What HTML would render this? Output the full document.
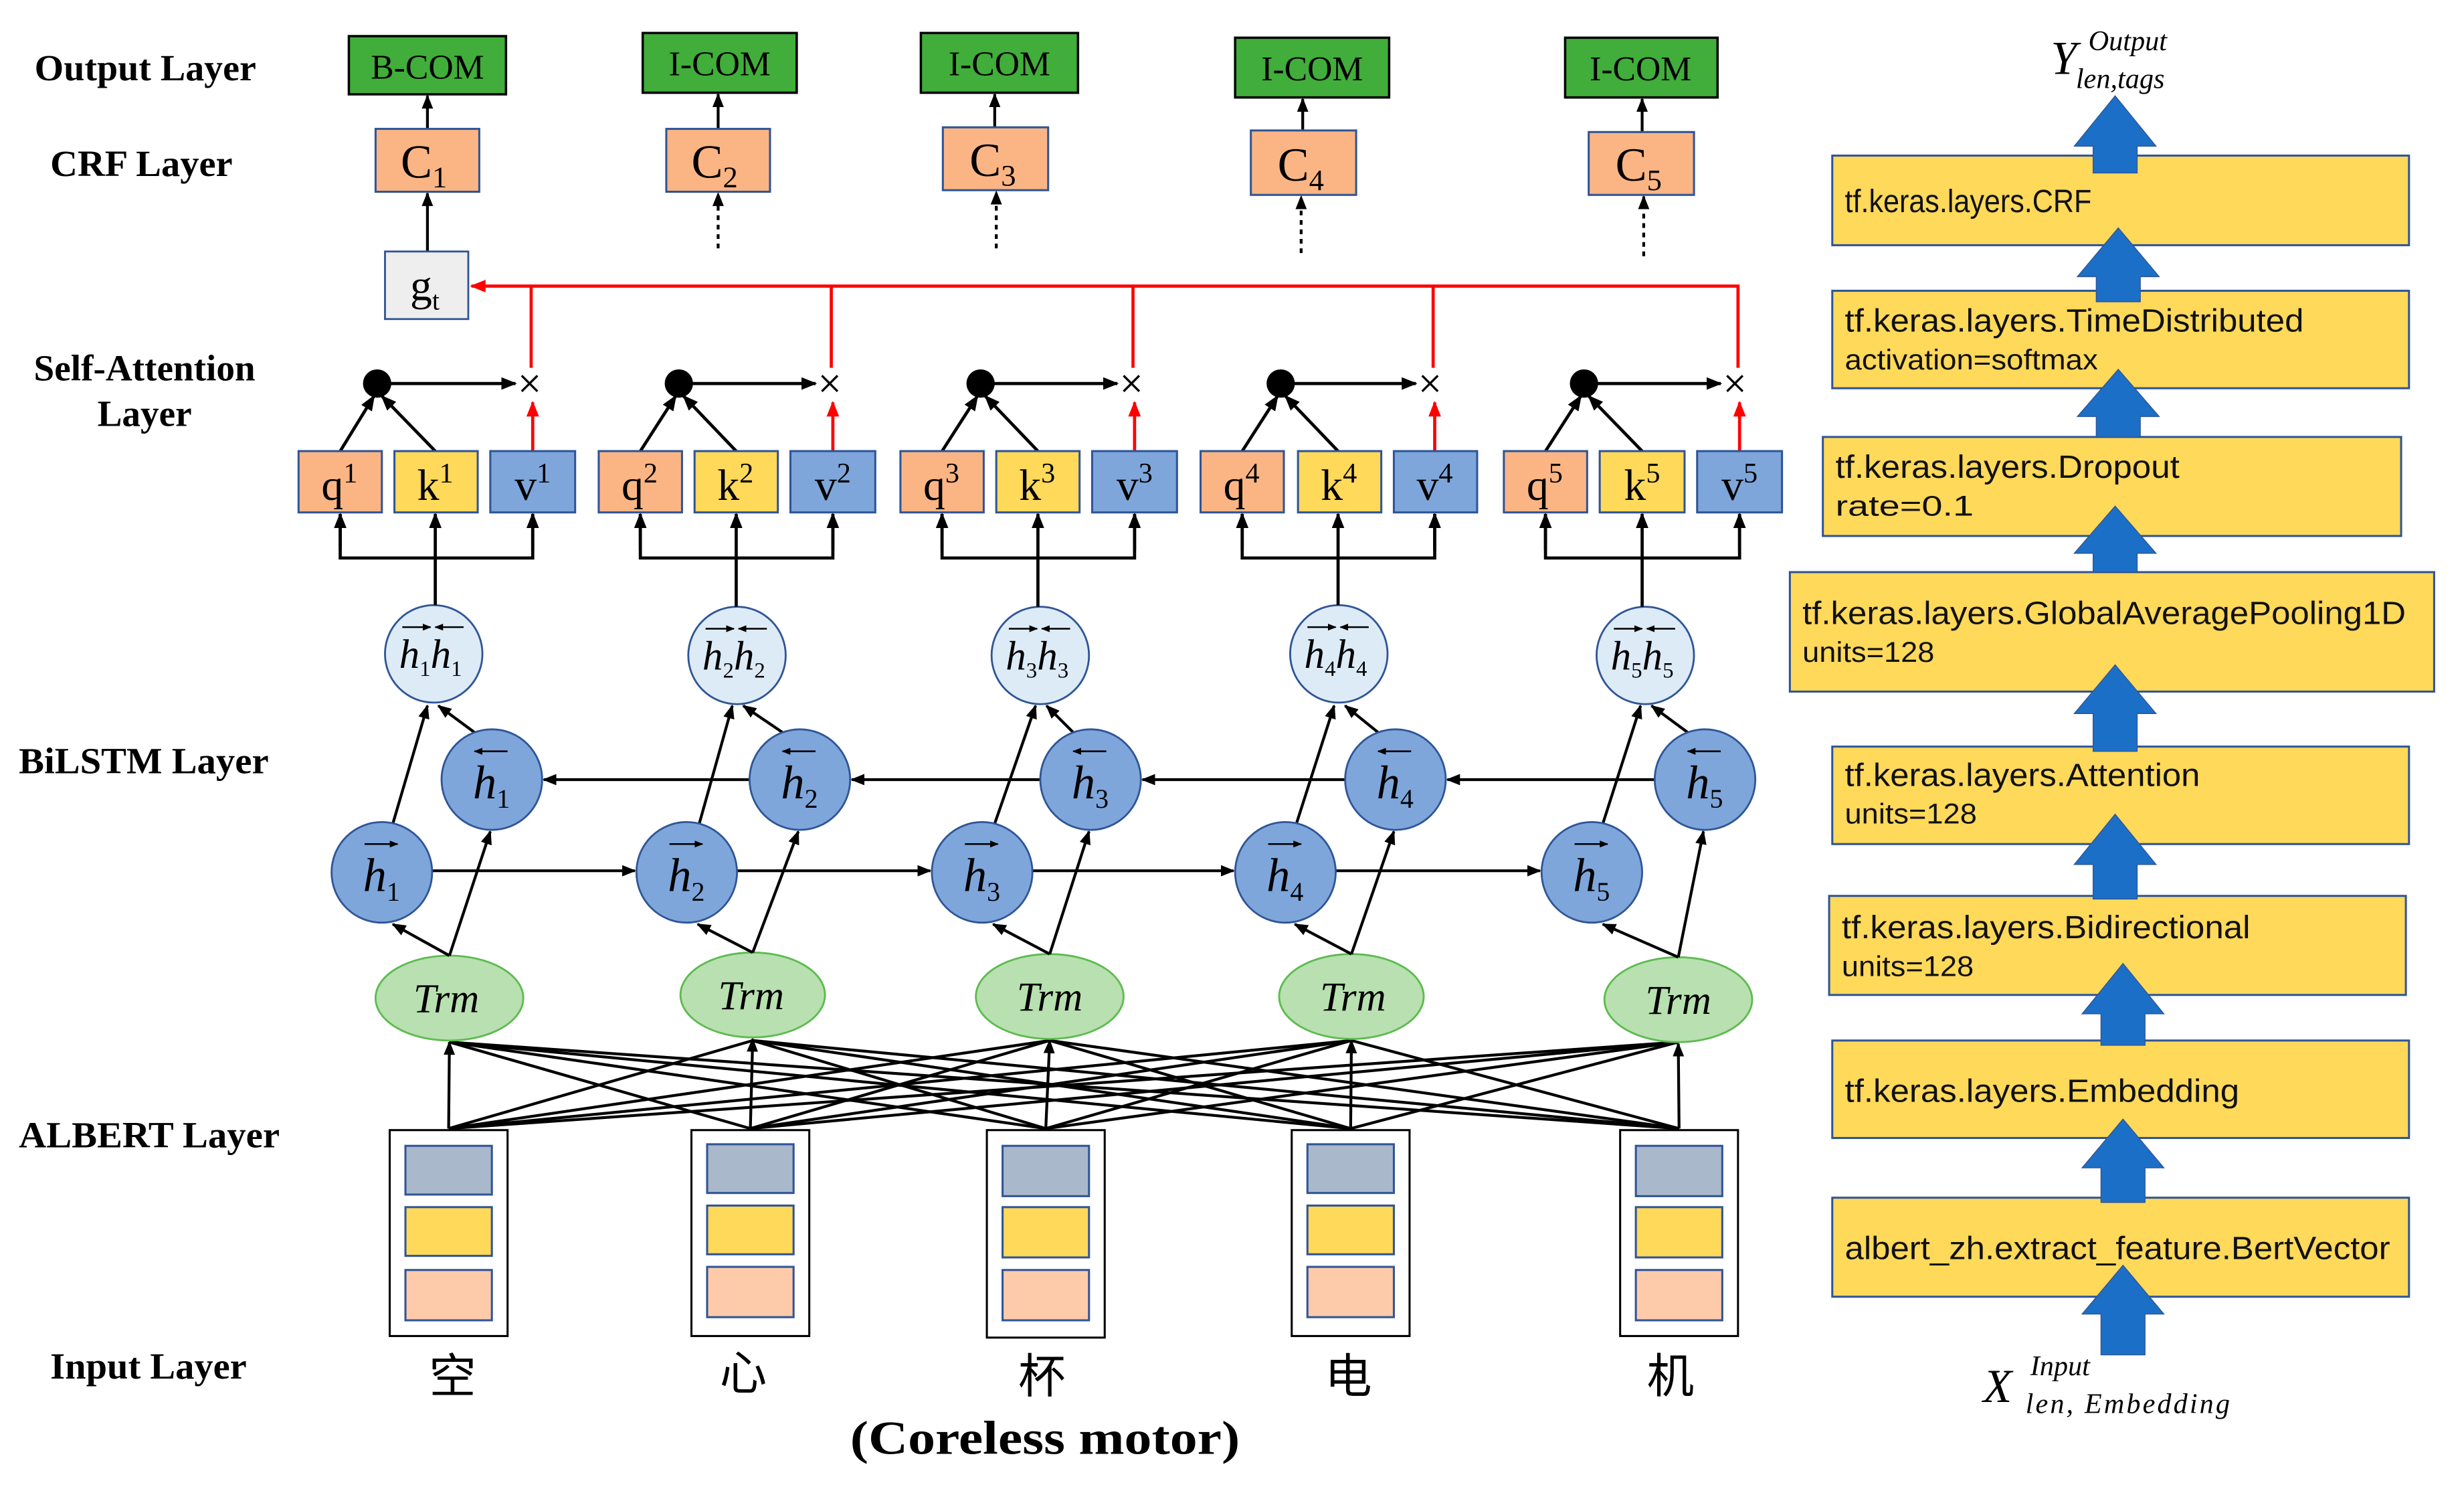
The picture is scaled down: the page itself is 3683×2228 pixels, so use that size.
<!DOCTYPE html>
<html><head><meta charset="utf-8"><style>
html,body{margin:0;padding:0;background:#fff;}
svg{display:block;}
.lab{font-family:"Liberation Serif",serif;font-weight:bold;font-size:23.5px;fill:#000;}
.ser{font-family:"Liberation Serif",serif;fill:#000;}
.ar{font-family:"Liberation Sans",sans-serif;font-size:20.5px;fill:#111;}
.it{font-family:"Liberation Serif",serif;font-style:italic;fill:#000;}
.cjk{font-family:"Liberation Serif","Noto Sans CJK SC",sans-serif;font-size:30px;fill:#000;}
</style></head><body>
<svg width="3683" height="2228" viewBox="0 0 1568 948.6" preserveAspectRatio="none" xmlns="http://www.w3.org/2000/svg">
<defs>
<marker id="a" viewBox="0 0 10 10" refX="9" refY="5" markerWidth="5" markerHeight="5" orient="auto"><path d="M0,1 L10,5 L0,9z" fill="#000"/></marker>
<marker id="r" viewBox="0 0 10 10" refX="9" refY="5" markerWidth="5" markerHeight="5" orient="auto"><path d="M0,1 L10,5 L0,9z" fill="#f00"/></marker>
</defs>

<text class="lab" x="22" y="51" textLength="141" lengthAdjust="spacingAndGlyphs">Output Layer</text>
<text class="lab" x="32" y="112" textLength="116" lengthAdjust="spacingAndGlyphs">CRF Layer</text>
<text class="lab" x="92" y="242" text-anchor="middle">Self-Attention</text>
<text class="lab" x="92" y="271" text-anchor="middle">Layer</text>
<text class="lab" x="12" y="492" textLength="159" lengthAdjust="spacingAndGlyphs">BiLSTM Layer</text>
<text class="lab" x="12" y="730" textLength="166" lengthAdjust="spacingAndGlyphs">ALBERT Layer</text>
<text class="lab" x="32" y="877" textLength="125" lengthAdjust="spacingAndGlyphs">Input Layer</text>

<g stroke="#000" stroke-width="1.8" fill="none">
<line x1="285.5" y1="718" x2="286" y2="663" marker-end="url(#a)"/><line x1="285.5" y1="718" x2="479" y2="662"/><line x1="285.5" y1="718" x2="668" y2="662"/><line x1="285.5" y1="718" x2="860" y2="662"/><line x1="285.5" y1="718" x2="1068" y2="663"/>
<line x1="477.5" y1="718" x2="286" y2="663"/><line x1="477.5" y1="718" x2="479" y2="661" marker-end="url(#a)"/><line x1="477.5" y1="718" x2="668" y2="662"/><line x1="477.5" y1="718" x2="860" y2="662"/><line x1="477.5" y1="718" x2="1068" y2="663"/>
<line x1="665.5" y1="718" x2="286" y2="663"/><line x1="665.5" y1="718" x2="479" y2="662"/><line x1="665.5" y1="718" x2="668" y2="662" marker-end="url(#a)"/><line x1="665.5" y1="718" x2="860" y2="662"/><line x1="665.5" y1="718" x2="1068" y2="663"/>
<line x1="859.5" y1="718" x2="286" y2="663"/><line x1="859.5" y1="718" x2="479" y2="662"/><line x1="859.5" y1="718" x2="668" y2="662"/><line x1="859.5" y1="718" x2="860" y2="662" marker-end="url(#a)"/><line x1="859.5" y1="718" x2="1068" y2="663"/>
<line x1="1068.5" y1="718" x2="286" y2="663"/><line x1="1068.5" y1="718" x2="479" y2="662"/><line x1="1068.5" y1="718" x2="668" y2="662"/><line x1="1068.5" y1="718" x2="860" y2="662"/><line x1="1068.5" y1="718" x2="1068" y2="664" marker-end="url(#a)"/>
</g>

<g stroke="#000" stroke-width="1.3" fill="#fff">
<rect x="248" y="719" width="75" height="131"/><rect x="440" y="719" width="75" height="131"/><rect x="628" y="719" width="75" height="132"/><rect x="822" y="719" width="75" height="131"/><rect x="1031" y="719" width="75" height="131"/>
</g>
<g stroke="#2F5597" stroke-width="1.3">
<rect x="258" y="729" width="55" height="31" fill="#A9B8CB"/><rect x="258" y="768" width="55" height="31" fill="#FFD95A"/><rect x="258" y="808" width="55" height="32" fill="#FDCBAA"/>
<rect x="450" y="728" width="55" height="31" fill="#A9B8CB"/><rect x="450" y="767" width="55" height="31" fill="#FFD95A"/><rect x="450" y="806" width="55" height="32" fill="#FDCBAA"/>
<rect x="638" y="729" width="55" height="32" fill="#A9B8CB"/><rect x="638" y="768" width="55" height="32" fill="#FFD95A"/><rect x="638" y="808" width="55" height="32" fill="#FDCBAA"/>
<rect x="832" y="728" width="55" height="31" fill="#A9B8CB"/><rect x="832" y="767" width="55" height="31" fill="#FFD95A"/><rect x="832" y="806" width="55" height="32" fill="#FDCBAA"/>
<rect x="1041" y="729" width="55" height="32" fill="#A9B8CB"/><rect x="1041" y="768" width="55" height="32" fill="#FFD95A"/><rect x="1041" y="808" width="55" height="32" fill="#FDCBAA"/>
</g>
<text class="cjk" x="288" y="886" text-anchor="middle">空</text>
<text class="cjk" x="473" y="884" text-anchor="middle">心</text>
<text class="cjk" x="663" y="886" text-anchor="middle">杯</text>
<text class="cjk" x="858" y="886" text-anchor="middle">电</text>
<text class="cjk" x="1063" y="886" text-anchor="middle">机</text>
<text class="ser" x="541" y="925" font-size="30" font-weight="bold" textLength="248" lengthAdjust="spacingAndGlyphs">(Coreless  motor)</text>

<g fill="#B8E0B0" stroke="#5DBB4F" stroke-width="1.2">
<ellipse cx="286" cy="635" rx="47" ry="27"/><ellipse cx="479" cy="633" rx="46" ry="27"/><ellipse cx="668" cy="634" rx="47" ry="27"/><ellipse cx="860" cy="634" rx="46" ry="27"/><ellipse cx="1068" cy="636" rx="47" ry="27"/>
</g>
<g class="it" font-size="26" text-anchor="middle">
<text x="284" y="644">Trm</text><text x="478" y="642">Trm</text><text x="668" y="643">Trm</text><text x="861" y="643">Trm</text><text x="1068" y="645">Trm</text>
</g>

<g stroke="#000" stroke-width="1.8" fill="none">
<line x1="286" y1="608" x2="250" y2="588" marker-end="url(#a)"/><line x1="286" y1="608" x2="312" y2="529" marker-end="url(#a)"/>
<line x1="479" y1="606" x2="444" y2="588" marker-end="url(#a)"/><line x1="479" y1="606" x2="508" y2="529" marker-end="url(#a)"/>
<line x1="668" y1="607" x2="632" y2="588" marker-end="url(#a)"/><line x1="668" y1="607" x2="693" y2="529" marker-end="url(#a)"/>
<line x1="860" y1="607" x2="824" y2="588" marker-end="url(#a)"/><line x1="860" y1="607" x2="887" y2="529" marker-end="url(#a)"/>
<line x1="1068" y1="609" x2="1020" y2="588" marker-end="url(#a)"/><line x1="1068" y1="609" x2="1084" y2="529" marker-end="url(#a)"/>
<line x1="250" y1="524" x2="272" y2="449" marker-end="url(#a)"/><line x1="302" y1="466" x2="279" y2="449" marker-end="url(#a)"/>
<line x1="445" y1="524" x2="466" y2="449" marker-end="url(#a)"/><line x1="498" y1="466" x2="473" y2="449" marker-end="url(#a)"/>
<line x1="633" y1="524" x2="659" y2="449" marker-end="url(#a)"/><line x1="683" y1="466" x2="666" y2="449" marker-end="url(#a)"/>
<line x1="825" y1="524" x2="849" y2="449" marker-end="url(#a)"/><line x1="877" y1="466" x2="856" y2="449" marker-end="url(#a)"/>
<line x1="1020" y1="524" x2="1044" y2="449" marker-end="url(#a)"/><line x1="1074" y1="466" x2="1051" y2="449" marker-end="url(#a)"/>
<line x1="275" y1="554" x2="404" y2="554" marker-end="url(#a)"/><line x1="469" y1="554" x2="592" y2="554" marker-end="url(#a)"/><line x1="657" y1="554" x2="785" y2="554" marker-end="url(#a)"/><line x1="850" y1="554" x2="980" y2="554" marker-end="url(#a)"/>
<line x1="477" y1="496" x2="346" y2="496" marker-end="url(#a)"/><line x1="662" y1="496" x2="542" y2="496" marker-end="url(#a)"/><line x1="856" y1="496" x2="727" y2="496" marker-end="url(#a)"/><line x1="1053" y1="496" x2="921" y2="496" marker-end="url(#a)"/>
</g>

<g fill="#7EA6DB" stroke="#2F5597" stroke-width="1.2">
<circle cx="243" cy="555" r="32"/><circle cx="313" cy="496" r="32"/>
<circle cx="437" cy="555" r="32"/><circle cx="509" cy="496" r="32"/>
<circle cx="625" cy="555" r="32"/><circle cx="694" cy="496" r="32"/>
<circle cx="818" cy="555" r="32"/><circle cx="888" cy="496" r="32"/>
<circle cx="1013" cy="555" r="32"/><circle cx="1085" cy="496" r="32"/>
</g>
<g fill="#DDEBF7" stroke="#2F5597" stroke-width="1.2">
<ellipse cx="276" cy="416" rx="31" ry="31"/><ellipse cx="469" cy="417" rx="31" ry="31"/><ellipse cx="662" cy="417" rx="31" ry="31"/><ellipse cx="852" cy="416" rx="31" ry="31"/><ellipse cx="1047" cy="417" rx="31" ry="31"/>
</g>
<g class="it" font-size="30">
<text x="231" y="567">h<tspan font-size="17" font-style="normal" dy="6">1</tspan></text>
<text x="301" y="508">h<tspan font-size="17" font-style="normal" dy="6">1</tspan></text>
<text x="425" y="567">h<tspan font-size="17" font-style="normal" dy="6">2</tspan></text>
<text x="497" y="508">h<tspan font-size="17" font-style="normal" dy="6">2</tspan></text>
<text x="613" y="567">h<tspan font-size="17" font-style="normal" dy="6">3</tspan></text>
<text x="682" y="508">h<tspan font-size="17" font-style="normal" dy="6">3</tspan></text>
<text x="806" y="567">h<tspan font-size="17" font-style="normal" dy="6">4</tspan></text>
<text x="876" y="508">h<tspan font-size="17" font-style="normal" dy="6">4</tspan></text>
<text x="1001" y="567">h<tspan font-size="17" font-style="normal" dy="6">5</tspan></text>
<text x="1073" y="508">h<tspan font-size="17" font-style="normal" dy="6">5</tspan></text>
</g>
<g class="it" font-size="26">
<text x="254" y="425">h<tspan font-size="14" font-style="normal" dy="5">1</tspan><tspan dy="-5">h</tspan><tspan font-size="14" font-style="normal" dy="5">1</tspan></text>
<text x="447" y="426">h<tspan font-size="14" font-style="normal" dy="5">2</tspan><tspan dy="-5">h</tspan><tspan font-size="14" font-style="normal" dy="5">2</tspan></text>
<text x="640" y="426">h<tspan font-size="14" font-style="normal" dy="5">3</tspan><tspan dy="-5">h</tspan><tspan font-size="14" font-style="normal" dy="5">3</tspan></text>
<text x="830" y="425">h<tspan font-size="14" font-style="normal" dy="5">4</tspan><tspan dy="-5">h</tspan><tspan font-size="14" font-style="normal" dy="5">4</tspan></text>
<text x="1025" y="426">h<tspan font-size="14" font-style="normal" dy="5">5</tspan><tspan dy="-5">h</tspan><tspan font-size="14" font-style="normal" dy="5">5</tspan></text>
</g>
<g stroke="#000" stroke-width="1.1">
<line x1="232" y1="537" x2="253" y2="537" marker-end="url(#a)"/><line x1="323" y1="478" x2="302" y2="478" marker-end="url(#a)"/>
<line x1="426" y1="537" x2="447" y2="537" marker-end="url(#a)"/><line x1="519" y1="478" x2="498" y2="478" marker-end="url(#a)"/>
<line x1="614" y1="537" x2="635" y2="537" marker-end="url(#a)"/><line x1="704" y1="478" x2="683" y2="478" marker-end="url(#a)"/>
<line x1="807" y1="537" x2="828" y2="537" marker-end="url(#a)"/><line x1="898" y1="478" x2="877" y2="478" marker-end="url(#a)"/>
<line x1="1002" y1="537" x2="1023" y2="537" marker-end="url(#a)"/><line x1="1095" y1="478" x2="1074" y2="478" marker-end="url(#a)"/>
<line x1="256" y1="399" x2="274" y2="399" marker-end="url(#a)"/><line x1="295" y1="399" x2="277" y2="399" marker-end="url(#a)"/>
<line x1="449" y1="400" x2="467" y2="400" marker-end="url(#a)"/><line x1="488" y1="400" x2="470" y2="400" marker-end="url(#a)"/>
<line x1="642" y1="400" x2="660" y2="400" marker-end="url(#a)"/><line x1="681" y1="400" x2="663" y2="400" marker-end="url(#a)"/>
<line x1="832" y1="399" x2="850" y2="399" marker-end="url(#a)"/><line x1="871" y1="399" x2="853" y2="399" marker-end="url(#a)"/>
<line x1="1027" y1="400" x2="1045" y2="400" marker-end="url(#a)"/><line x1="1066" y1="400" x2="1048" y2="400" marker-end="url(#a)"/>
</g>

<g stroke="#000" stroke-width="2" fill="none">
<line x1="277" y1="385" x2="277" y2="327" marker-end="url(#a)"/><polyline points="216.5,327 216.5,355 339,355 339,327"/>
<line x1="216.5" y1="350" x2="216.5" y2="327" marker-end="url(#a)"/><line x1="339" y1="350" x2="339" y2="327" marker-end="url(#a)"/>
<line x1="468.5" y1="386" x2="468.5" y2="327" marker-end="url(#a)"/><polyline points="407.5,327 407.5,355 530,355 530,327"/>
<line x1="407.5" y1="350" x2="407.5" y2="327" marker-end="url(#a)"/><line x1="530" y1="350" x2="530" y2="327" marker-end="url(#a)"/>
<line x1="660.5" y1="386" x2="660.5" y2="327" marker-end="url(#a)"/><polyline points="599.5,327 599.5,355 722,355 722,327"/>
<line x1="599.5" y1="350" x2="599.5" y2="327" marker-end="url(#a)"/><line x1="722" y1="350" x2="722" y2="327" marker-end="url(#a)"/>
<line x1="851.5" y1="385" x2="851.5" y2="327" marker-end="url(#a)"/><polyline points="790.5,327 790.5,355 913,355 913,327"/>
<line x1="790.5" y1="350" x2="790.5" y2="327" marker-end="url(#a)"/><line x1="913" y1="350" x2="913" y2="327" marker-end="url(#a)"/>
<line x1="1045" y1="386" x2="1045" y2="327" marker-end="url(#a)"/><polyline points="983.5,327 983.5,355 1107,355 1107,327"/>
<line x1="983.5" y1="350" x2="983.5" y2="327" marker-end="url(#a)"/><line x1="1107" y1="350" x2="1107" y2="327" marker-end="url(#a)"/>
<line x1="216.5" y1="287" x2="238" y2="252" marker-end="url(#a)"/><line x1="277" y1="287" x2="243" y2="252" marker-end="url(#a)"/><line x1="246" y1="244" x2="328" y2="244" marker-end="url(#a)"/>
<line x1="407.5" y1="287" x2="430" y2="252" marker-end="url(#a)"/><line x1="468.5" y1="287" x2="435" y2="252" marker-end="url(#a)"/><line x1="438" y1="244" x2="519" y2="244" marker-end="url(#a)"/>
<line x1="599.5" y1="287" x2="622" y2="252" marker-end="url(#a)"/><line x1="660.5" y1="287" x2="627" y2="252" marker-end="url(#a)"/><line x1="630" y1="244" x2="711" y2="244" marker-end="url(#a)"/>
<line x1="790.5" y1="287" x2="813" y2="252" marker-end="url(#a)"/><line x1="851.5" y1="287" x2="818" y2="252" marker-end="url(#a)"/><line x1="821" y1="244" x2="901" y2="244" marker-end="url(#a)"/>
<line x1="983.5" y1="287" x2="1006" y2="252" marker-end="url(#a)"/><line x1="1045" y1="287" x2="1011" y2="252" marker-end="url(#a)"/><line x1="1014" y1="244" x2="1095" y2="244" marker-end="url(#a)"/>
</g>
<g fill="#000">
<circle cx="240" cy="244" r="9"/><circle cx="432" cy="244" r="9"/><circle cx="624" cy="244" r="9"/><circle cx="815" cy="244" r="9"/><circle cx="1008" cy="244" r="9"/>
</g>
<g stroke="#000" stroke-width="1.4">
<path d="M332,239 l10,10 M342,239 l-10,10"/><path d="M523,239 l10,10 M533,239 l-10,10"/><path d="M715,239 l10,10 M725,239 l-10,10"/><path d="M905,239 l10,10 M915,239 l-10,10"/><path d="M1099,239 l10,10 M1109,239 l-10,10"/>
</g>

<g stroke="#f00" stroke-width="2" fill="none">
<line x1="339" y1="287" x2="339" y2="256" marker-end="url(#r)"/><line x1="530" y1="287" x2="530" y2="256" marker-end="url(#r)"/><line x1="722" y1="287" x2="722" y2="256" marker-end="url(#r)"/><line x1="913" y1="287" x2="913" y2="256" marker-end="url(#r)"/><line x1="1107" y1="287" x2="1107" y2="256" marker-end="url(#r)"/>
<line x1="338" y1="234" x2="338" y2="182"/><line x1="529" y1="234" x2="529" y2="182"/><line x1="721" y1="234" x2="721" y2="182"/><line x1="912" y1="234" x2="912" y2="182"/><line x1="1106" y1="234" x2="1106" y2="182"/>
<line x1="1107" y1="182" x2="300" y2="182" marker-end="url(#r)"/>
</g>

<g stroke="#2F5597" stroke-width="1.3">
<rect x="190" y="287" width="53" height="39" fill="#FBB584"/><rect x="251" y="287" width="53" height="39" fill="#FFD95A"/><rect x="312" y="287" width="54" height="39" fill="#7EA6DB"/>
<rect x="381" y="287" width="53" height="39" fill="#FBB584"/><rect x="442" y="287" width="53" height="39" fill="#FFD95A"/><rect x="503" y="287" width="54" height="39" fill="#7EA6DB"/>
<rect x="573" y="287" width="53" height="39" fill="#FBB584"/><rect x="634" y="287" width="53" height="39" fill="#FFD95A"/><rect x="695" y="287" width="54" height="39" fill="#7EA6DB"/>
<rect x="764" y="287" width="53" height="39" fill="#FBB584"/><rect x="826" y="287" width="53" height="39" fill="#FFD95A"/><rect x="887" y="287" width="53" height="39" fill="#7EA6DB"/>
<rect x="957" y="287" width="53" height="39" fill="#FBB584"/><rect x="1018" y="287" width="54" height="39" fill="#FFD95A"/><rect x="1080" y="287" width="54" height="39" fill="#7EA6DB"/>
</g>
<g class="ser" font-size="28" text-anchor="middle">
<text x="216" y="318">q<tspan font-size="18" dy="-11">1</tspan></text><text x="277" y="318">k<tspan font-size="18" dy="-11">1</tspan></text><text x="339" y="318">v<tspan font-size="18" dy="-11">1</tspan></text>
<text x="407" y="318">q<tspan font-size="18" dy="-11">2</tspan></text><text x="468" y="318">k<tspan font-size="18" dy="-11">2</tspan></text><text x="530" y="318">v<tspan font-size="18" dy="-11">2</tspan></text>
<text x="599" y="318">q<tspan font-size="18" dy="-11">3</tspan></text><text x="660" y="318">k<tspan font-size="18" dy="-11">3</tspan></text><text x="722" y="318">v<tspan font-size="18" dy="-11">3</tspan></text>
<text x="790" y="318">q<tspan font-size="18" dy="-11">4</tspan></text><text x="852" y="318">k<tspan font-size="18" dy="-11">4</tspan></text><text x="913" y="318">v<tspan font-size="18" dy="-11">4</tspan></text>
<text x="983" y="318">q<tspan font-size="18" dy="-11">5</tspan></text><text x="1045" y="318">k<tspan font-size="18" dy="-11">5</tspan></text><text x="1107" y="318">v<tspan font-size="18" dy="-11">5</tspan></text>
</g>

<g stroke="#000" stroke-width="1.8" fill="none">
<line x1="272" y1="160" x2="272" y2="123" marker-end="url(#a)"/>
<line x1="272" y1="82" x2="272" y2="61" marker-end="url(#a)"/>
<line x1="457" y1="82" x2="457" y2="60" marker-end="url(#a)"/>
<line x1="633" y1="81" x2="633" y2="60" marker-end="url(#a)"/>
<line x1="829" y1="83" x2="829" y2="63" marker-end="url(#a)"/>
<line x1="1045" y1="84" x2="1045" y2="63" marker-end="url(#a)"/>
</g>
<g stroke="#000" stroke-width="1.8" fill="none" stroke-dasharray="3,3">
<line x1="457" y1="158" x2="457" y2="123" marker-end="url(#a)"/>
<line x1="634" y1="158" x2="634" y2="122" marker-end="url(#a)"/>
<line x1="828" y1="161" x2="828" y2="125" marker-end="url(#a)"/>
<line x1="1046" y1="163" x2="1046" y2="125" marker-end="url(#a)"/>
</g>
<rect x="245" y="160" width="53" height="43" fill="#EEEEEE" stroke="#2F5597" stroke-width="1.2"/>
<text class="ser" x="261" y="191" font-size="28">g<tspan font-size="17" dy="6">t</tspan></text>

<g fill="#FBB584" stroke="#2F5597" stroke-width="1.3">
<rect x="239" y="82" width="66" height="40"/><rect x="424" y="82" width="66" height="40"/><rect x="600" y="81" width="67" height="40"/><rect x="796" y="83" width="67" height="41"/><rect x="1011" y="84" width="67" height="40"/>
</g>
<g class="ser" font-size="30">
<text x="255" y="113">C<tspan font-size="19" dy="6">1</tspan></text>
<text x="440" y="113">C<tspan font-size="19" dy="6">2</tspan></text>
<text x="617" y="112">C<tspan font-size="19" dy="6">3</tspan></text>
<text x="813" y="115">C<tspan font-size="19" dy="6">4</tspan></text>
<text x="1028" y="115">C<tspan font-size="19" dy="6">5</tspan></text>
</g>

<g fill="#41AD3A" stroke="#000" stroke-width="1.5">
<rect x="222" y="23" width="100" height="37"/><rect x="409" y="21" width="98" height="38"/><rect x="586" y="21" width="100" height="38"/><rect x="786" y="24" width="98" height="38"/><rect x="996" y="24" width="97" height="38"/>
</g>
<g class="ser" font-size="22" text-anchor="middle">
<text x="272" y="50">B-COM</text><text x="458" y="48">I-COM</text><text x="636" y="48">I-COM</text><text x="835" y="51">I-COM</text><text x="1044" y="51">I-COM</text>
</g>

<g fill="#FFD95A" stroke="#2F5597" stroke-width="1.3">
<rect x="1166" y="99" width="367" height="57"/>
<rect x="1166" y="185" width="367" height="62"/>
<rect x="1160" y="278" width="368" height="63"/>
<rect x="1139" y="364" width="410" height="76"/>
<rect x="1166" y="475" width="367" height="62"/>
<rect x="1164" y="570" width="367" height="63"/>
<rect x="1166" y="662" width="367" height="62"/>
<rect x="1166" y="762" width="367" height="63"/>
</g>
<g class="ar">
<text x="1174" y="135" textLength="157" lengthAdjust="spacingAndGlyphs">tf.keras.layers.CRF</text>
<text x="1174" y="211" textLength="292" lengthAdjust="spacingAndGlyphs">tf.keras.layers.TimeDistributed</text>
<text x="1174" y="235" font-size="18" textLength="161" lengthAdjust="spacingAndGlyphs">activation=softmax</text>
<text x="1168" y="304" textLength="219" lengthAdjust="spacingAndGlyphs">tf.keras.layers.Dropout</text>
<text x="1168" y="328" font-size="18" textLength="88" lengthAdjust="spacingAndGlyphs">rate=0.1</text>
<text x="1147" y="397" textLength="384" lengthAdjust="spacingAndGlyphs">tf.keras.layers.GlobalAveragePooling1D</text>
<text x="1147" y="421" font-size="18" textLength="84" lengthAdjust="spacingAndGlyphs">units=128</text>
<text x="1174" y="500" textLength="226" lengthAdjust="spacingAndGlyphs">tf.keras.layers.Attention</text>
<text x="1174" y="524" font-size="18" textLength="84" lengthAdjust="spacingAndGlyphs">units=128</text>
<text x="1172" y="597" textLength="260" lengthAdjust="spacingAndGlyphs">tf.keras.layers.Bidirectional</text>
<text x="1172" y="621" font-size="18" textLength="84" lengthAdjust="spacingAndGlyphs">units=128</text>
<text x="1174" y="701" textLength="251" lengthAdjust="spacingAndGlyphs">tf.keras.layers.Embedding</text>
<text x="1174" y="801" textLength="347" lengthAdjust="spacingAndGlyphs">albert_zh.extract_feature.BertVector</text>
</g>
<g fill="#1C6FC6" stroke="#2F5597" stroke-width="0.6">
<polygon points="1346,61 1372,93 1360,93 1360,110 1332,110 1332,93 1320,93"/>
<polygon points="1348,145 1374,176 1362,176 1362,192 1334,192 1334,176 1322,176"/>
<polygon points="1348,235 1374,265 1362,265 1362,278 1334,278 1334,265 1322,265"/>
<polygon points="1346,322 1372,352 1360,352 1360,364 1332,364 1332,352 1320,352"/>
<polygon points="1346,423 1372,454 1360,454 1360,478 1332,478 1332,454 1320,454"/>
<polygon points="1346,518 1372,550 1360,550 1360,572 1332,572 1332,550 1320,550"/>
<polygon points="1351,613 1377,645 1365,645 1365,665 1337,665 1337,645 1325,645"/>
<polygon points="1351,712 1377,743 1365,743 1365,765 1337,765 1337,743 1325,743"/>
<polygon points="1351,805 1377,836 1365,836 1365,862 1337,862 1337,836 1325,836"/>
</g>
<text class="it" x="1305" y="47" font-size="30">Y</text>
<text class="it" x="1329" y="32" font-size="18">Output</text>
<text class="it" x="1321" y="56" font-size="18">len,tags</text>
<text class="it" x="1262" y="892" font-size="30">X</text>
<text class="it" x="1292" y="875" font-size="18">Input</text>
<text class="it" x="1289" y="899" font-size="18" textLength="130" lengthAdjust="spacing">len,   Embedding</text>
</svg>
</body></html>
